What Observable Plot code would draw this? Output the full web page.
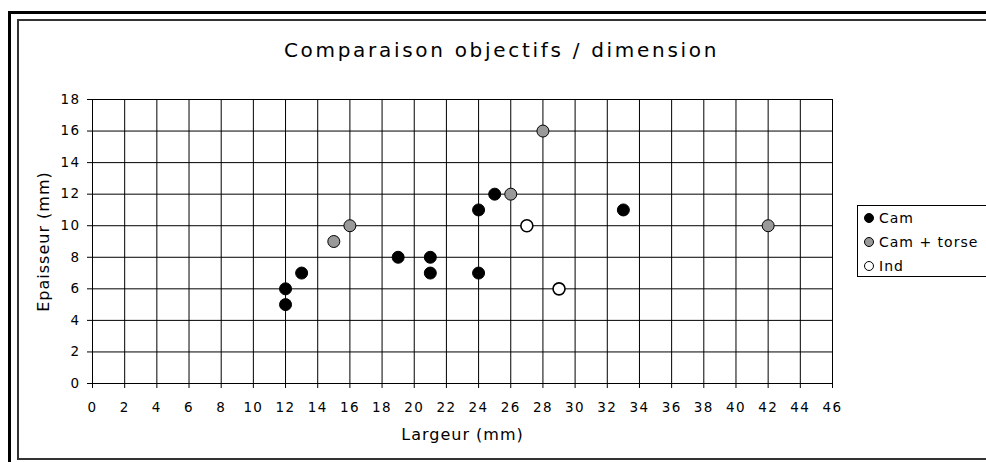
<!DOCTYPE html>
<html>
<head>
<meta charset="utf-8">
<script src="https://cdn.jsdelivr.net/npm/d3@7"></script>
<script src="https://cdn.jsdelivr.net/npm/@observablehq/plot@0.6"></script>
<style>
  html, body { margin: 0; padding: 0; background: #fff; }
  #chart { position: relative; width: 986px; height: 462px; overflow: hidden; background: #fff; font-family: "DejaVu Sans", Verdana, sans-serif; }
  #chart svg { position: absolute; left: 0; top: 0; }
  .frame-outer { position: absolute; left: 8px; top: 11px; width: 1100px; height: 600px; border: 3px solid #000; box-sizing: border-box; }
  .frame-inner { position: absolute; left: 17px; top: 19px; width: 1100px; height: 441px; border: 2px solid #333; box-sizing: border-box; background: #fff; }
  .title { position: absolute; left: 0; width: 1003px; top: 40px; line-height: 20px; text-align: center; font-size: 20px; letter-spacing: 2.7px; color: #000; white-space: nowrap; }
  .legend { position: absolute; left: 857px; top: 205px; width: 140px; height: 72px; border: 1px solid #000; box-sizing: border-box; background: #fff; }
  .legend .row { height: 24px; display: flex; align-items: center; font-size: 14px; letter-spacing: 1px; white-space: nowrap; }
  .legend .sw { width: 10px; height: 10px; border-radius: 50%; box-sizing: border-box; margin-left: 6px; margin-right: 5px; }
  g[aria-label="x-axis label"] text, g[aria-label="y-axis label"] text { font-size: 16px; letter-spacing: 1px; }
</style>
</head>
<body>
<div id="chart">
  <div class="frame-outer"></div>
  <div class="frame-inner"></div>
</div>
<script>
// ---- data ----
const titleText = "Comparaison objectifs / dimension";
const xLabel = "Largeur (mm)";
const yLabel = "Epaisseur (mm)";
const seriesNames = ["Cam", "Cam + torse", "Ind"];
const seriesFills = ["#000000", "#999999", "#ffffff"];

const camX = [12, 12, 13, 19, 21, 21, 24, 24, 25, 33];
const camY = [6, 5, 7, 8, 8, 7, 11, 7, 12, 11];
const torseX = [15, 16, 26, 28, 42];
const torseY = [9, 10, 12, 16, 10];
const indX = [27, 29];
const indY = [10, 6];

const xTicks = [0, 2, 4, 6, 8, 10, 12, 14, 16, 18, 20, 22, 24, 26, 28, 30, 32, 34, 36, 38, 40, 42, 44, 46];
const yTicks = [0, 2, 4, 6, 8, 10, 12, 14, 16, 18];

// ---- build table ----
const seriesX = [camX, torseX, indX];
const seriesY = [camY, torseY, indY];
const points = [];
seriesNames.forEach((name, i) => {
  seriesX[i].forEach((x, j) => points.push({series: name, x, y: seriesY[i][j]}));
});

const chart = document.getElementById("chart");

const plot = Plot.plot({
  width: 986,
  height: 462,
  marginLeft: 92,
  marginRight: 154,
  marginTop: 99,
  marginBottom: 79,
  style: {fontFamily: "DejaVu Sans, Verdana, sans-serif", fontSize: "13.5px", color: "#000", background: "transparent", overflow: "visible"},
  x: {domain: [xTicks[0], xTicks[xTicks.length - 1]]},
  y: {domain: [yTicks[0], yTicks[yTicks.length - 1]]},
  color: {domain: seriesNames, range: seriesFills},
  marks: [
    Plot.gridX({ticks: xTicks, stroke: "#000", strokeOpacity: 1}),
    Plot.gridY({ticks: yTicks, stroke: "#000", strokeOpacity: 1}),
    Plot.axisX({ticks: xTicks, tickSize: 5, tickPadding: 14, label: xLabel, labelAnchor: "center", labelOffset: 56, labelArrow: "none"}),
    Plot.axisY({ticks: yTicks, tickSize: 5, tickPadding: 7, label: yLabel, labelAnchor: "center", labelOffset: 55, labelArrow: "none"}),
    Plot.ruleX([xTicks[0]], {stroke: "#000"}),
    Plot.ruleY([yTicks[0]], {stroke: "#000"}),
    Plot.dot(points, {x: "x", y: "y", r: 6, fill: "series", stroke: "#000", strokeWidth: d => d.series === "Ind" ? 1.6 : 1})
  ]
});
chart.appendChild(plot);

// tick label styling (wider letter spacing as in the original)
plot.querySelectorAll('[aria-label$="tick label"]').forEach(g => {
  g.style.fontSize = "13.5px";
  g.style.letterSpacing = "1.4px";
  g.querySelectorAll("text").forEach(tx => { tx.style.fontSize = "13.5px"; tx.style.letterSpacing = "1.4px"; });
});

// title
const t = document.createElement("div");
t.className = "title";
t.textContent = titleText;
chart.appendChild(t);

// legend
const lg = document.createElement("div");
lg.className = "legend";
seriesNames.forEach((name, i) => {
  const row = document.createElement("div");
  row.className = "row";
  const sw = document.createElement("div");
  sw.className = "sw";
  sw.style.background = seriesFills[i];
  sw.style.border = (i === 2 ? "1.6px" : "1px") + " solid #000";
  const tx = document.createElement("span");
  tx.textContent = name;
  row.appendChild(sw);
  row.appendChild(tx);
  lg.appendChild(row);
});
chart.appendChild(lg);
</script>
</body>
</html>
